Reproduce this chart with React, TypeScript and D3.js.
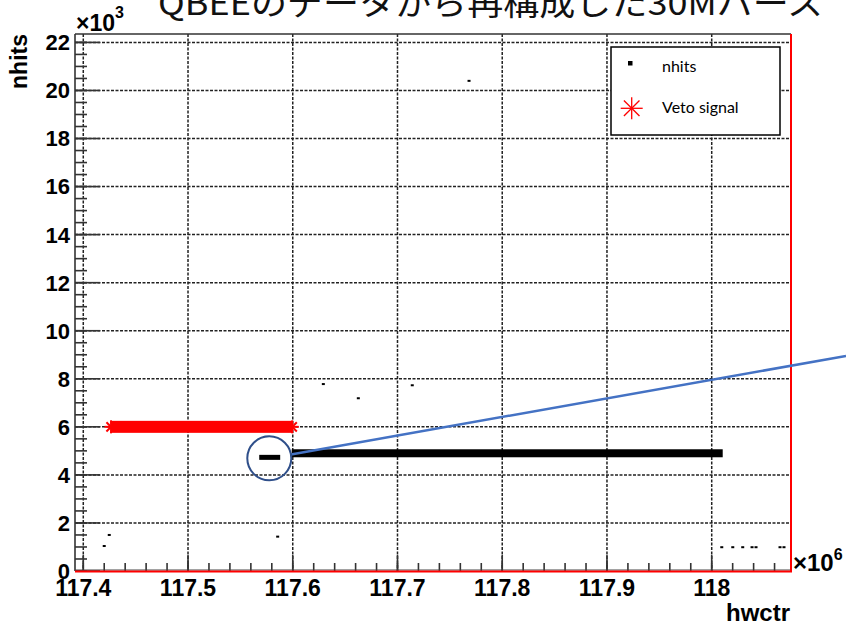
import React from "react";
import * as d3 from "d3";

// ---- data (x in units of 1e6 hwctr, y in units of 1e3 nhits) ----
const xMajorTicks = [117.4, 117.5, 117.6, 117.7, 117.8, 117.9, 118.0];
const xTickLabels = ["117.4", "117.5", "117.6", "117.7", "117.8", "117.9", "118"];
const yMajorTicks = [0, 2, 4, 6, 8, 10, 12, 14, 16, 18, 20, 22];
const yTickLabels = ["0", "2", "4", "6", "8", "10", "12", "14", "16", "18", "20", "22"];

// Veto signal: dense run of star markers (start, end, level)
const vetoStart = [117.4265];
const vetoEnd = [117.5995];
const vetoLevel = [6.0];

// nhits dense bands (start, end, level)
const nhitsBandStart = [117.568, 117.599];
const nhitsBandEnd = [117.588, 118.0105];
const nhitsBandLevel = [4.73, 4.9];

// isolated nhits points
const nhitsX = [117.7683, 117.6292, 117.6626, 117.7141, 117.4248, 117.42, 117.5856,
  118.0096, 118.0201, 118.0296, 118.0385, 118.0423, 118.0652, 118.069];
const nhitsY = [20.4, 7.78, 7.19, 7.73, 1.5, 1.04, 1.43,
  0.99, 0.99, 0.99, 0.99, 0.99, 0.99, 0.99];

// annotation (circle around the small segment and a zoom line)
const annotCenter = [117.5776, 4.69];
const annotLineEnd = [118.1282, 8.95];

const title = "QBEEのデータから再構成した30Mバース";

export default function App() {
  const W = 846, H = 625;
  const L = 75, R = 791, T = 34, B = 571;
  const x = d3.scaleLinear().domain([117.3921, 118.0757]).range([L, R]);
  const y = d3.scaleLinear().domain([0, 22.35]).range([B, T]);

  const xMinor = d3.range(117.4, 118.076, 0.02).filter(v => x(v) <= R);
  const yMinor = d3.range(0, 22.35, 0.5);
  const gridColor = "#222";
  const font = "'Liberation Sans', Arial, Helvetica, sans-serif";

  const star = (cx: number, cy: number, r: number, key: string, sw = 1.5) => (
    <g key={key} stroke="#ff0000" strokeWidth={sw}>
      {[0, 45, 90, 135].map(a => {
        const rad = (a * Math.PI) / 180;
        return <line key={a} x1={cx - r * Math.cos(rad)} y1={cy - r * Math.sin(rad)} x2={cx + r * Math.cos(rad)} y2={cy + r * Math.sin(rad)} />;
      })}
    </g>
  );

  const cx = x(annotCenter[0]), cy = y(annotCenter[1]), cr = 22;
  const ex = x(annotLineEnd[0]), ey = y(annotLineEnd[1]);
  const dl = Math.hypot(ex - cx, ey - cy);
  const sx = cx + (cr * (ex - cx)) / dl, sy = cy + (cr * (ey - cy)) / dl;

  return (
    <svg width={W} height={H} style={{ position: "absolute", left: 0, top: 0, display: "block" }}>
      <rect x={0} y={0} width={W} height={H} fill="#fff" />
      {/* title */}
      <text x={158} y={15} fontFamily="'Noto Sans CJK JP', sans-serif" fontSize={33} textLength={665} lengthAdjust="spacingAndGlyphs" fill="#111">{title}</text>

      {/* grid */}
      <g stroke={gridColor} strokeWidth={1.5} strokeDasharray="3,1.5">
        {xMajorTicks.map(v => <line key={"gx" + v} x1={x(v)} x2={x(v)} y1={T} y2={B} />)}
        {yMajorTicks.filter(v => v > 0).map(v => <line key={"gy" + v} x1={L} x2={R} y1={y(v)} y2={y(v)} />)}
      </g>

      {/* ticks */}
      <g stroke="#333" strokeWidth={1.6}>
        {yMajorTicks.map(v => <line key={"ty" + v} x1={L} x2={L + 25} y1={y(v)} y2={y(v)} />)}
        {yMinor.map(v => <line key={"tym" + v} x1={L} x2={L + 12} y1={y(v)} y2={y(v)} />)}
        {xMajorTicks.map(v => <line key={"tx" + v} x1={x(v)} x2={x(v)} y1={B} y2={B - 16} />)}
        {xMinor.map(v => <line key={"txm" + v} x1={x(v)} x2={x(v)} y1={B} y2={B - 8} />)}
      </g>

      {/* veto signal band */}
      {vetoStart.map((s, i) => {
        const x0 = x(s), x1 = x(vetoEnd[i]), yy = y(vetoLevel[i]);
        return (
          <g key={"veto" + i}>
            <rect x={x0} y={yy - 6} width={x1 - x0} height={12} fill="#ff0000" />
            {star(x0, yy, 6.5, "vs" + i, 2)}
            {star(x1, yy, 6.5, "ve" + i, 2)}
          </g>
        );
      })}

      {/* nhits bands */}
      {nhitsBandStart.map((s, i) => (
        <rect key={"nb" + i} x={x(s)} y={y(nhitsBandLevel[i]) - (i === 0 ? 2.5 : 4)} width={x(nhitsBandEnd[i]) - x(s)} height={i === 0 ? 5 : 8} fill="#000" />
      ))}
      {nhitsX.map((v, i) => (
        <rect key={"np" + i} x={x(v) - 1.5} y={y(nhitsY[i]) - 1} width={3} height={2} fill="#000" />
      ))}

      {/* frame */}
      <line x1={L} x2={L} y1={T} y2={B} stroke="#333" strokeWidth={1.6} />
      <line x1={L} x2={R} y1={T} y2={T} stroke="#333" strokeWidth={1.6} />
      <line x1={L} x2={R} y1={B - 1} y2={B - 1} stroke="#444" strokeWidth={1} />
      <line x1={L} x2={R + 1} y1={B + 0.5} y2={B + 0.5} stroke="#ff0000" strokeWidth={2} />
      <line x1={R} x2={R} y1={T} y2={B} stroke="#ff0000" strokeWidth={2} />

      {/* annotation */}
      <line x1={sx} y1={sy} x2={ex} y2={ey} stroke="#4472C4" strokeWidth={2.5} />
      <circle cx={cx} cy={cy} r={cr} fill="none" stroke="#2F4F8A" strokeWidth={2} />

      {/* tick labels */}
      <g fontFamily={font} fontWeight="bold" fontSize={23} fill="#000">
        {xMajorTicks.map((v, i) => (
          <text key={"lx" + v} x={x(v)} y={596} textAnchor="middle">{xTickLabels[i]}</text>
        ))}
        {yMajorTicks.map((v, i) => (
          <text key={"ly" + v} x={70} y={y(v)} dy="0.36em" textAnchor="end" fontSize={22}>{yTickLabels[i]}</text>
        ))}
      </g>

      {/* axis titles and exponents */}
      <text x={790} y={621} textAnchor="end" fontFamily={font} fontWeight="bold" fontSize={24}>hwctr</text>
      <text transform="translate(27,34) rotate(-90)" textAnchor="end" fontFamily={font} fontWeight="bold" fontSize={23}>nhits</text>
      <text x={76} y={31} fontFamily={font} fontWeight="bold" fontSize={23}>
        ×10<tspan fontSize={16} dy={-13}>3</tspan>
      </text>
      <text x={793} y={571} fontFamily={font} fontWeight="bold" fontSize={24}>
        ×10<tspan fontSize={16} dy={-11}>6</tspan>
      </text>

      {/* legend */}
      <rect x={611} y={47} width={169} height={88} fill="#fff" stroke="#000" strokeWidth={1.5} />
      <rect x={628} y={61} width={4.5} height={4.5} fill="#000" />
      {star(631.7, 108.3, 11, "legstar", 1.3)}
      <text x={662} y={72} fontFamily="Lato, 'Open Sans', sans-serif" fontSize={16} fill="#000">nhits</text>
      <text x={662} y={113} fontFamily="Lato, 'Open Sans', sans-serif" fontSize={16} fill="#000">Veto signal</text>
    </svg>
  );
}
